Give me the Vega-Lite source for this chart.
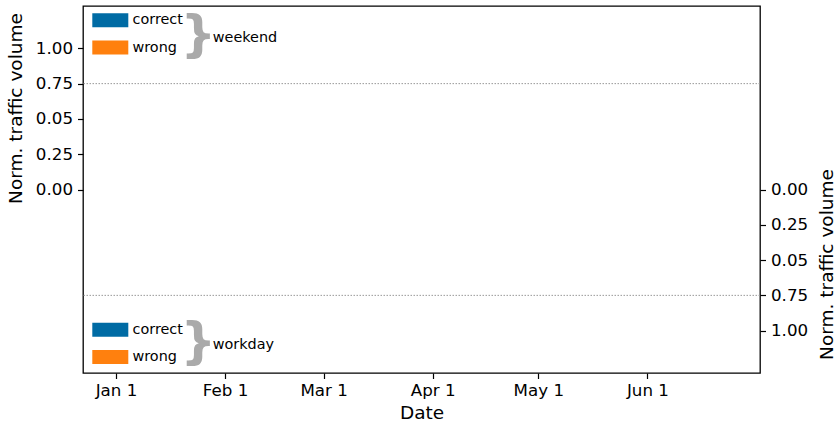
{
  "$schema": "https://vega.github.io/schema/vega-lite/v6.json",
  "width": 677,
  "height": 367,
  "autosize": {"type": "none"},
  "padding": {"left": 83, "top": 6, "right": 75, "bottom": 48},
  "background": "white",
  "datasets": {
    "series": [
      {"period": "weekend", "series": "correct", "date": null, "volume": null},
      {"period": "weekend", "series": "wrong", "date": null, "volume": null},
      {"period": "workday", "series": "correct", "date": null, "volume": null},
      {"period": "workday", "series": "wrong", "date": null, "volume": null}
    ],
    "reference": [
      {"period": "weekend", "volume": 0.75},
      {"period": "workday", "volume": 0.75}
    ],
    "groups": [
      {"period": "weekend", "label": "weekend"},
      {"period": "workday", "label": "workday"}
    ]
  },
  "config": {
    "font": "DejaVu Sans",
    "view": {"stroke": "#000000", "strokeWidth": 1.3},
    "axis": {
      "domain": false,
      "grid": false,
      "tickColor": "#000000",
      "tickSize": 5.5,
      "tickWidth": 1.2,
      "labelFont": "DejaVu Sans",
      "labelFontSize": 16.7,
      "labelColor": "#000000",
      "labelPadding": 5,
      "titleFont": "DejaVu Sans",
      "titleFontSize": 18.5,
      "titleFontWeight": "normal",
      "titleColor": "#000000"
    },
    "legend": {
      "labelFont": "DejaVu Sans",
      "labelFontSize": 14.4,
      "labelColor": "#000000"
    },
    "text": {"font": "DejaVu Sans"}
  },
  "layer": [
    {
      "layer": [
        {
          "data": {"name": "reference"},
          "transform": [{"filter": "datum.period === 'weekend'"}],
          "mark": {"type": "rule", "color": "#999999", "strokeWidth": 1, "strokeDash": [1.5, 1.5]},
          "encoding": {
            "y": {"field": "volume", "type": "quantitative",
              "scale": {"domain": [-1.3, 1.3], "nice": false, "zero": false},
              "axis": {"orient": "left", "values": [0, 0.25, 0.5, 0.75, 1], "labelExpr": "datum.value === 0.5 ? '0.05' : format(datum.value, '.2f')", "title": "Norm. traffic volume", "titleAngle": 270, "titleBaseline": "alphabetic", "titleAlign": "center", "titleX": -62, "titleY": 102}}
          }
        },
        {
          "data": {"name": "series"},
          "transform": [{"filter": "datum.period === 'weekend'"}],
          "mark": {"type": "square", "opacity": 1, "filled": true},
          "encoding": {
            "x": {"field": "date", "type": "temporal",
              "scale": {"type": "utc", "domain": [{"year": 2018, "month": 12, "date": 22, "hours": 15, "utc": true}, {"year": 2019, "month": 7, "date": 3, "utc": true}], "nice": false},
              "axis": {"orient": "bottom", "values": [{"year": 2019, "month": 1, "date": 1, "utc": true}, {"year": 2019, "month": 2, "date": 1, "utc": true}, {"year": 2019, "month": 3, "date": 1, "utc": true}, {"year": 2019, "month": 4, "date": 1, "utc": true}, {"year": 2019, "month": 5, "date": 1, "utc": true}, {"year": 2019, "month": 6, "date": 1, "utc": true}], "labelExpr": "utcFormat(datum.value, '%b %-d')", "labelPadding": 4, "title": "Date", "titleBaseline": "alphabetic", "titleY": 45}},
            "y": {"field": "volume", "type": "quantitative",
              "scale": {"domain": [-1.3, 1.3], "nice": false, "zero": false},
              "axis": {"orient": "left", "values": [0, 0.25, 0.5, 0.75, 1], "labelExpr": "datum.value === 0.5 ? '0.05' : format(datum.value, '.2f')", "title": "Norm. traffic volume", "titleAngle": 270, "titleBaseline": "alphabetic", "titleAlign": "center", "titleX": -62, "titleY": 102}},
            "color": {"field": "series", "type": "nominal",
              "scale": {"domain": ["correct", "wrong"], "range": ["#006BA4", "#FF800E"]},
              "legend": {"orient": "none", "legendX": 9.1, "legendY": 7.1, "title": null, "padding": 0, "symbolType": "M-1,-1H4.143V1H-1Z", "symbolSize": 196, "symbolStrokeWidth": 0, "labelOffset": 26, "rowPadding": 11.3}}
          }
        },
        {
          "data": {"name": "groups"},
          "transform": [{"filter": "datum.period === 'weekend'"}],
          "mark": {"type": "text", "text": "}", "fontSize": 50, "fontWeight": "bold", "color": "#aaaaaa", "align": "center", "baseline": "middle"},
          "encoding": {
            "x": {"datum": {"year": 2019, "month": 1, "date": 24, "hours": 10, "utc": true}, "type": "temporal"},
            "y": {"datum": 1.09, "type": "quantitative"}
          }
        },
        {
          "data": {"name": "groups"},
          "transform": [{"filter": "datum.period === 'weekend'"}],
          "mark": {"type": "text", "fontSize": 14.4, "color": "#000000", "align": "left", "baseline": "alphabetic"},
          "encoding": {
            "x": {"datum": {"year": 2019, "month": 1, "date": 28, "hours": 12, "utc": true}, "type": "temporal"},
            "y": {"datum": 1.047, "type": "quantitative"},
            "text": {"field": "label", "type": "nominal"}
          }
        }
      ]
    },
    {
      "layer": [
        {
          "data": {"name": "reference"},
          "transform": [{"filter": "datum.period === 'workday'"}],
          "mark": {"type": "rule", "color": "#999999", "strokeWidth": 1, "strokeDash": [1.5, 1.5]},
          "encoding": {
            "y": {"field": "volume", "type": "quantitative",
              "scale": {"domain": [-1.3, 1.3], "nice": false, "zero": false, "reverse": true},
              "axis": {"orient": "right", "values": [0, 0.25, 0.5, 0.75, 1], "labelExpr": "datum.value === 0.5 ? '0.05' : format(datum.value, '.2f')", "title": "Norm. traffic volume", "titleAngle": 270, "titleBaseline": "alphabetic", "titleAlign": "center", "titleX": 72, "titleY": 258}}
          }
        },
        {
          "data": {"name": "series"},
          "transform": [{"filter": "datum.period === 'workday'"}],
          "mark": {"type": "square", "opacity": 1, "filled": true},
          "encoding": {
            "x": {"field": "date", "type": "temporal"},
            "y": {"field": "volume", "type": "quantitative"},
            "color": {"field": "series", "type": "nominal",
              "scale": {"domain": ["correct", "wrong"], "range": ["#006BA4", "#FF800E"]},
              "legend": {"orient": "none", "legendX": 9.1, "legendY": 316.5, "title": null, "padding": 0, "symbolType": "M-1,-1H4.143V1H-1Z", "symbolSize": 196, "symbolStrokeWidth": 0, "labelOffset": 26, "rowPadding": 11.3}}
          }
        },
        {
          "data": {"name": "groups"},
          "transform": [{"filter": "datum.period === 'workday'"}],
          "mark": {"type": "text", "text": "}", "fontSize": 50, "fontWeight": "bold", "color": "#aaaaaa", "align": "center", "baseline": "middle"},
          "encoding": {
            "x": {"datum": {"year": 2019, "month": 1, "date": 24, "hours": 10, "utc": true}, "type": "temporal"},
            "y": {"datum": 1.09, "type": "quantitative"}
          }
        },
        {
          "data": {"name": "groups"},
          "transform": [{"filter": "datum.period === 'workday'"}],
          "mark": {"type": "text", "fontSize": 14.4, "color": "#000000", "align": "left", "baseline": "alphabetic"},
          "encoding": {
            "x": {"datum": {"year": 2019, "month": 1, "date": 28, "hours": 12, "utc": true}, "type": "temporal"},
            "y": {"datum": 1.132, "type": "quantitative"},
            "text": {"field": "label", "type": "nominal"}
          }
        }
      ]
    }
  ],
  "resolve": {
    "scale": {"y": "independent", "color": "independent"},
    "axis": {"y": "independent"},
    "legend": {"color": "independent"}
  }
}
